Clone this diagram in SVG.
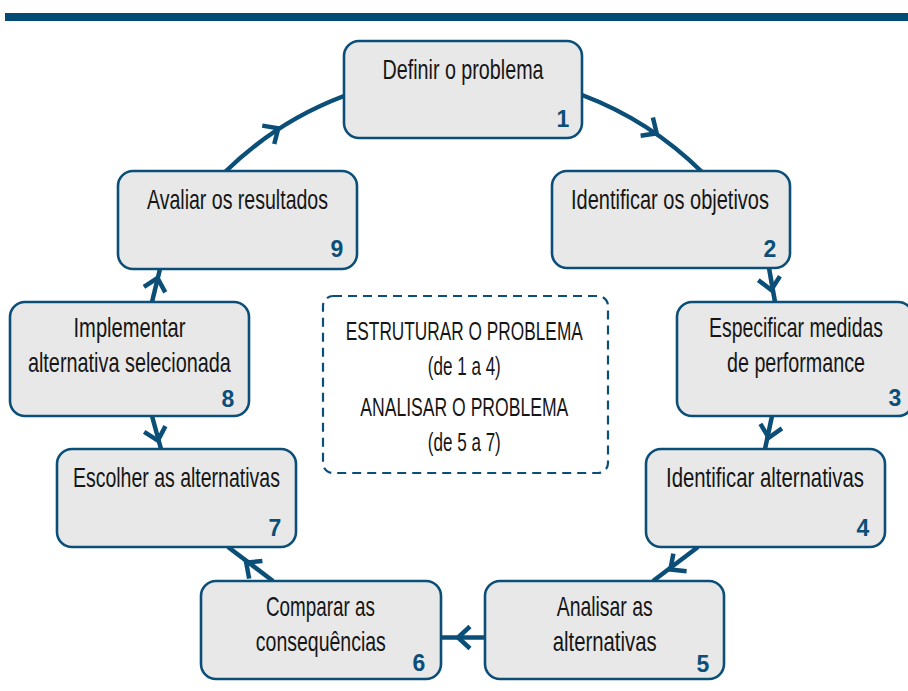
<svg xmlns="http://www.w3.org/2000/svg" xmlns:xlink="http://www.w3.org/1999/xlink" width="908" height="691" viewBox="0 0 908 691">
<style>
.box{fill:#e8e8e8;stroke:#0b4f78;stroke-width:2.6}
.lbl{font-family:"Liberation Sans",Arial,sans-serif;font-size:27.5px;fill:#161616;text-anchor:middle}
.ctr{font-family:"Liberation Sans",Arial,sans-serif;font-size:25px;fill:#161616;text-anchor:middle}
.num{font-family:"Liberation Sans",Arial,sans-serif;font-size:23px;font-weight:bold;fill:#0b4f78;text-anchor:middle}
.ln{fill:none;stroke:#0b4f78;stroke-width:4.5}
.chev{fill:none;stroke:#0b4f78;stroke-width:4.5;stroke-linejoin:miter}
</style>
<defs>
<path id="chev" class="chev" d="M-12,-11 L0,0 L-12,11"/>
</defs>
<rect x="5" y="13" width="903" height="8" fill="#024b75"/>
<g id="connectors">
<path class="ln" d="M582,95 A343,343 0 0 1 702,172"/>
<use xlink:href="#chev" transform="translate(656.7,133.3) rotate(34)"/>
<path class="ln" d="M225,172 A343,343 0 0 1 344,96"/>
<use xlink:href="#chev" transform="translate(278.3,128.3) rotate(-33)"/>
<path class="ln" d="M769,268 L775,302"/>
<use xlink:href="#chev" transform="translate(771.2,290) rotate(80)"/>
<path class="ln" d="M772,416 L765,449"/>
<use xlink:href="#chev" transform="translate(768.7,437.8) rotate(102)"/>
<path class="ln" d="M698,547 L653,581"/>
<use xlink:href="#chev" transform="translate(670.4,569.6) rotate(143)"/>
<path class="ln" d="M485,637.5 L441,637.5"/>
<use xlink:href="#chev" transform="translate(458,637.5) rotate(180)"/>
<path class="ln" d="M273,581 L228,547"/>
<use xlink:href="#chev" transform="translate(246.2,562.6) rotate(-143)"/>
<path class="ln" d="M152,416 L161,449"/>
<use xlink:href="#chev" transform="translate(157.9,440.6) rotate(75)"/>
<path class="ln" d="M152,302 L160,269"/>
<use xlink:href="#chev" transform="translate(157.5,278) rotate(-76)"/>
</g>
<g id="center-note">
<rect x="323" y="296" width="285" height="177" rx="10" fill="none" stroke="#0b4f78" stroke-width="2.2" stroke-dasharray="9 6"/>
<text class="ctr" x="464.3" y="340" textLength="237" lengthAdjust="spacingAndGlyphs">ESTRUTURAR O PROBLEMA</text>
<text class="ctr" x="464.3" y="375" textLength="73" lengthAdjust="spacingAndGlyphs">(de 1 a 4)</text>
<text class="ctr" x="464.3" y="416" textLength="208" lengthAdjust="spacingAndGlyphs">ANALISAR O PROBLEMA</text>
<text class="ctr" x="464.3" y="451" textLength="73" lengthAdjust="spacingAndGlyphs">(de 5 a 7)</text>
</g>
<g id="node1">
<rect class="box" x="344" y="41" width="238" height="97" rx="15"/>
<text class="lbl" x="463" y="79" textLength="161" lengthAdjust="spacingAndGlyphs">Definir o problema</text>
<text class="num" x="563" y="127">1</text>
</g>
<g id="node2">
<rect class="box" x="552" y="171" width="238" height="97" rx="15"/>
<text class="lbl" x="670" y="209" textLength="198" lengthAdjust="spacingAndGlyphs">Identificar os objetivos</text>
<text class="num" x="770" y="257">2</text>
</g>
<g id="node3">
<rect class="box" x="677" y="302" width="236" height="114" rx="15"/>
<text class="lbl" x="796" y="337" textLength="174" lengthAdjust="spacingAndGlyphs">Especificar medidas</text>
<text class="lbl" x="796" y="372" textLength="138" lengthAdjust="spacingAndGlyphs">de performance</text>
<text class="num" x="895" y="406">3</text>
</g>
<g id="node4">
<rect class="box" x="646" y="449" width="239" height="98" rx="15"/>
<text class="lbl" x="765" y="487" textLength="198" lengthAdjust="spacingAndGlyphs">Identificar alternativas</text>
<text class="num" x="863" y="536">4</text>
</g>
<g id="node5">
<rect class="box" x="485" y="581" width="239" height="98" rx="15"/>
<text class="lbl" x="604.7" y="616" textLength="96" lengthAdjust="spacingAndGlyphs">Analisar as</text>
<text class="lbl" x="604.7" y="651" textLength="104" lengthAdjust="spacingAndGlyphs">alternativas</text>
<text class="num" x="703" y="671.5">5</text>
</g>
<g id="node6">
<rect class="box" x="201" y="581" width="240" height="98" rx="15"/>
<text class="lbl" x="320.5" y="616" textLength="109" lengthAdjust="spacingAndGlyphs">Comparar as</text>
<text class="lbl" x="320.8" y="651" textLength="130" lengthAdjust="spacingAndGlyphs">consequências</text>
<text class="num" x="419" y="671">6</text>
</g>
<g id="node7">
<rect class="box" x="57" y="449" width="239" height="98" rx="15"/>
<text class="lbl" x="176.4" y="487" textLength="207" lengthAdjust="spacingAndGlyphs">Escolher as alternativas</text>
<text class="num" x="275" y="536">7</text>
</g>
<g id="node8">
<rect class="box" x="10" y="302" width="239" height="114" rx="15"/>
<text class="lbl" x="129.5" y="337" textLength="112" lengthAdjust="spacingAndGlyphs">Implementar</text>
<text class="lbl" x="129.4" y="372" textLength="203" lengthAdjust="spacingAndGlyphs">alternativa selecionada</text>
<text class="num" x="228" y="407">8</text>
</g>
<g id="node9">
<rect class="box" x="118" y="171" width="239" height="98" rx="15"/>
<text class="lbl" x="237.5" y="209" textLength="181" lengthAdjust="spacingAndGlyphs">Avaliar os resultados</text>
<text class="num" x="337" y="257">9</text>
</g>
</svg>
